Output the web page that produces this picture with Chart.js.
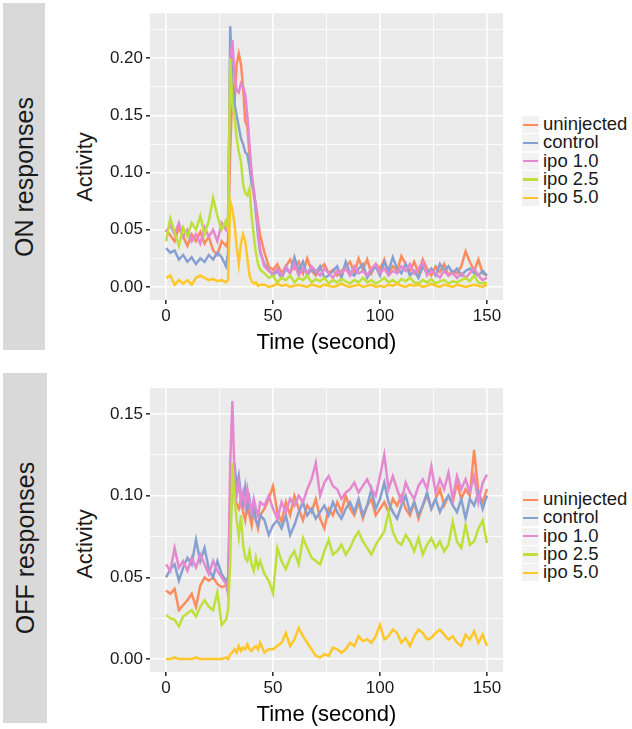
<!DOCTYPE html>
<html>
<head>
<meta charset="utf-8">
<script src="https://cdn.jsdelivr.net/npm/chart.js@4.4.1/dist/chart.umd.min.js"></script>
<style>
  body { margin:0; width:632px; height:729px; overflow:hidden; background:#fff; position:relative;
         font-family:"Liberation Sans", Arial, sans-serif; color:#1a1a1a; }
  .strip { position:absolute; background:#D9D9D9; }
  .rot { position:absolute; left:50%; top:50%; white-space:nowrap;
         transform:translate(-50%,-50%) rotate(-90deg); }
  .pin { position:absolute; width:0; height:0; }
  .legend { position:absolute; left:522px; }
  .row { position:absolute; left:0; height:18px; white-space:nowrap; }
  .key { position:absolute; left:0; top:0; width:17px; height:17px; background:#F2F2F2; }
  .key i { position:absolute; left:1px; right:1px; top:7.5px; height:2.4px; }
  .lab { position:absolute; left:21px; top:-3px; font-size:18.5px; line-height:22px; }
  .wrap { position:absolute; left:50px; }
</style>
</head>
<body>

<div class="strip" style="left:3px;top:3px;width:42px;height:347px;"><div class="rot" style="font-size:25px;">ON responses</div></div>
<div class="strip" style="left:3px;top:373px;width:44px;height:350px;"><div class="rot" style="font-size:25px;">OFF responses</div></div>

<div class="pin" style="left:85px;top:167px;"><div class="rot" style="font-size:22px;">Activity</div></div>
<div class="pin" style="left:85px;top:544px;"><div class="rot" style="font-size:22px;">Activity</div></div>

<div class="wrap" style="top:0;"><canvas id="onChart" width="460" height="360"></canvas></div>
<div class="wrap" style="top:375px;"><canvas id="offChart" width="460" height="354"></canvas></div>

<div class="legend" id="onLegend" style="top:116px;"></div>
<div class="legend" id="offLegend" style="top:491px;"></div>

<script>
// groups and colours
const groups = ['uninjected', 'control', 'ipo 1.0', 'ipo 2.5', 'ipo 5.0'];
const colors = ['#FC8C5E', '#86A0D2', '#E488CF', '#BDE03A', '#FFC72A'];

// sample times (s): every 2 s, every 1 s around the stimulus
const time = [0,2,4,6,8,10,12,14,16,18,20,22,24,26,28,
  29,30,31,32,33,34,35,36,37,38,39,40,41,42,43,44,
  46,48,50,52,54,56,58,60,62,64,66,68,70,72,74,76,78,80,82,84,
  86,88,90,92,94,96,98,100,102,104,106,108,110,112,114,116,118,120,122,124,
  126,128,130,132,134,136,138,140,142,144,146,148,150];

const xTicks = [0, 25, 50, 75, 100, 125, 150];
const onYTicks = [0, 0.025, 0.05, 0.075, 0.1, 0.125, 0.15, 0.175, 0.2, 0.225];
const offYTicks = [0, 0.025, 0.05, 0.075, 0.1, 0.125, 0.15];

// ON responses
const onUninjected = [
  0.050,0.045,0.040,0.052,0.044,0.036,0.046,0.040,0.048,0.038,0.044,0.032,0.028,0.040,0.036,
  0.040,0.120,0.170,0.160,0.195,0.204,0.195,0.175,0.145,0.140,0.115,0.095,0.080,0.072,0.058,0.045,
  0.030,0.018,0.015,0.020,0.012,0.018,0.024,0.016,0.022,0.012,
  0.025,0.014,0.010,0.016,0.020,0.012,0.015,0.010,0.014,0.018,
  0.022,0.012,0.025,0.015,0.024,0.012,0.020,0.016,0.024,0.012,
  0.018,0.014,0.027,0.020,0.014,0.022,0.012,0.024,0.016,0.010,
  0.018,0.013,0.020,0.010,0.014,0.012,0.018,0.031,0.022,0.014,
  0.024,0.012,0.010];
const onControl = [
  0.034,0.030,0.032,0.024,0.028,0.022,0.026,0.020,0.025,0.022,0.028,0.024,0.030,0.026,0.018,
  0.030,0.228,0.180,0.160,0.150,0.140,0.130,0.125,0.118,0.116,0.105,0.090,0.085,0.065,0.045,0.030,
  0.020,0.015,0.010,0.014,0.008,0.016,0.012,0.026,0.014,0.022,
  0.010,0.016,0.012,0.018,0.008,0.010,0.014,0.018,0.008,0.022,
  0.012,0.010,0.016,0.020,0.008,0.014,0.018,0.010,0.022,0.014,
  0.026,0.016,0.012,0.020,0.010,0.014,0.008,0.018,0.012,0.016,
  0.010,0.020,0.014,0.018,0.012,0.016,0.010,0.014,0.016,0.012,
  0.010,0.014,0.010];
const onIpo10 = [
  0.048,0.054,0.046,0.056,0.044,0.050,0.040,0.046,0.038,0.052,0.044,0.050,0.040,0.056,0.050,
  0.060,0.200,0.216,0.185,0.172,0.170,0.178,0.175,0.168,0.150,0.125,0.100,0.085,0.070,0.050,0.032,
  0.018,0.014,0.012,0.016,0.010,0.018,0.012,0.020,0.010,0.016,
  0.012,0.018,0.014,0.010,0.016,0.012,0.008,0.014,0.012,0.016,
  0.010,0.018,0.012,0.014,0.010,0.016,0.020,0.012,0.016,0.010,
  0.014,0.012,0.018,0.014,0.020,0.012,0.016,0.022,0.010,0.014,
  0.012,0.008,0.014,0.010,0.012,0.008,0.012,0.008,0.012,0.016,
  0.010,0.006,0.008];
const onIpo25 = [
  0.040,0.060,0.048,0.036,0.052,0.044,0.056,0.050,0.062,0.046,0.058,0.078,0.062,0.050,0.058,
  0.050,0.200,0.160,0.150,0.130,0.118,0.110,0.090,0.082,0.080,0.086,0.062,0.045,0.030,0.020,0.015,
  0.012,0.008,0.010,0.004,0.008,0.006,0.010,0.004,0.008,0.006,
  0.010,0.004,0.007,0.005,0.008,0.003,0.006,0.004,0.007,0.005,
  0.003,0.006,0.004,0.008,0.004,0.006,0.003,0.005,0.008,0.004,
  0.006,0.003,0.007,0.005,0.008,0.004,0.003,0.006,0.004,0.007,
  0.003,0.005,0.006,0.003,0.005,0.004,0.006,0.008,0.005,0.010,
  0.004,0.003,0.004];
const onIpo50 = [
  0.008,0.010,0.002,0.006,0.003,0.006,0.002,0.008,0.010,0.008,0.006,0.007,0.005,0.006,0.004,
  0.006,0.075,0.068,0.055,0.035,0.020,0.038,0.046,0.040,0.025,0.010,0.005,0.003,0.004,0.001,0.002,
  0.002,0.000,0.001,0.003,0.001,0.002,0.000,0.001,0.002,0.001,
  0.000,0.002,0.001,0.000,0.002,0.001,0.000,0.001,0.003,0.001,
  0.000,0.001,0.002,0.000,0.001,0.002,0.000,0.001,0.000,0.002,
  0.001,0.003,0.001,0.000,0.002,0.001,0.002,0.000,0.001,0.003,
  0.001,0.000,0.002,0.001,0.000,0.002,0.001,0.000,0.001,0.002,
  0.001,0.000,0.002];

// OFF responses
const offUninjected = [
  0.042,0.040,0.043,0.030,0.033,0.036,0.040,0.032,0.045,0.050,0.048,0.050,0.046,0.044,0.045,
  0.050,0.095,0.118,0.100,0.095,0.092,0.098,0.090,0.085,0.095,0.088,0.082,0.092,0.085,0.080,0.088,
  0.092,0.098,0.106,0.090,0.084,0.096,0.088,0.100,0.092,0.085,
  0.094,0.090,0.098,0.086,0.080,0.092,0.088,0.096,0.090,0.100,
  0.092,0.088,0.096,0.086,0.094,0.098,0.088,0.092,0.096,0.090,
  0.098,0.094,0.100,0.092,0.088,0.096,0.086,0.094,0.100,0.092,
  0.098,0.104,0.094,0.100,0.096,0.108,0.098,0.104,0.100,0.128,
  0.102,0.096,0.104];
const offControl = [
  0.050,0.055,0.058,0.048,0.056,0.062,0.058,0.073,0.060,0.068,0.055,0.050,0.060,0.052,0.048,
  0.050,0.080,0.105,0.120,0.105,0.112,0.100,0.095,0.105,0.092,0.098,0.088,0.094,0.085,0.082,0.088,
  0.085,0.076,0.082,0.085,0.080,0.088,0.076,0.082,0.090,0.096,
  0.088,0.092,0.086,0.090,0.094,0.088,0.096,0.090,0.086,0.092,
  0.096,0.090,0.098,0.088,0.094,0.104,0.092,0.098,0.108,0.096,
  0.090,0.086,0.094,0.100,0.090,0.096,0.088,0.094,0.102,0.092,
  0.098,0.090,0.096,0.100,0.094,0.090,0.098,0.086,0.098,0.094,
  0.102,0.092,0.100];
const offIpo10 = [
  0.058,0.054,0.068,0.056,0.060,0.054,0.062,0.056,0.064,0.058,0.052,0.060,0.054,0.050,0.046,
  0.040,0.120,0.158,0.112,0.100,0.108,0.096,0.102,0.094,0.104,0.096,0.090,0.098,0.092,0.088,0.096,
  0.094,0.100,0.092,0.086,0.096,0.090,0.098,0.094,0.100,0.096,
  0.104,0.110,0.120,0.100,0.108,0.112,0.106,0.104,0.098,0.102,
  0.104,0.108,0.102,0.106,0.110,0.104,0.100,0.112,0.125,0.104,
  0.112,0.104,0.096,0.108,0.102,0.098,0.106,0.110,0.104,0.118,
  0.102,0.110,0.104,0.114,0.098,0.112,0.104,0.110,0.102,0.112,
  0.096,0.108,0.113];
const offIpo25 = [
  0.027,0.025,0.024,0.020,0.026,0.028,0.030,0.026,0.032,0.036,0.032,0.030,0.041,0.021,0.024,
  0.030,0.060,0.120,0.098,0.085,0.075,0.088,0.070,0.062,0.060,0.066,0.058,0.054,0.062,0.056,0.060,
  0.052,0.048,0.040,0.068,0.060,0.055,0.062,0.066,0.058,0.074,
  0.068,0.062,0.060,0.058,0.066,0.073,0.064,0.066,0.070,0.064,
  0.068,0.074,0.078,0.072,0.068,0.064,0.070,0.074,0.078,0.090,
  0.078,0.072,0.070,0.076,0.072,0.066,0.074,0.064,0.070,0.074,
  0.068,0.072,0.066,0.070,0.084,0.072,0.068,0.082,0.070,0.072,
  0.080,0.085,0.071];
const offIpo50 = [
  0.000,0.000,0.001,0.000,0.000,0.000,0.000,0.001,0.000,0.000,0.000,0.000,0.000,0.000,0.001,
  0.000,0.003,0.004,0.006,0.004,0.008,0.005,0.007,0.006,0.009,0.006,0.005,0.007,0.008,0.006,0.010,
  0.004,0.006,0.006,0.008,0.010,0.016,0.008,0.012,0.019,0.014,
  0.010,0.006,0.002,0.001,0.003,0.002,0.007,0.006,0.004,0.006,
  0.010,0.008,0.014,0.011,0.012,0.010,0.014,0.021,0.012,0.014,
  0.018,0.016,0.010,0.013,0.008,0.014,0.018,0.016,0.012,0.013,
  0.016,0.018,0.015,0.012,0.014,0.010,0.008,0.015,0.012,0.017,
  0.010,0.015,0.008];

const onSeries = [onUninjected, onControl, onIpo10, onIpo25, onIpo50];
const offSeries = [offUninjected, offControl, offIpo10, offIpo25, offIpo50];

Chart.defaults.font.family = '"Liberation Sans", Arial, sans-serif';
Chart.defaults.color = '#1a1a1a';

// grey panel behind the grid, like ggplot
const panelBg = {
  id: 'panelBg',
  beforeDraw(chart) {
    const { ctx, chartArea: a } = chart;
    ctx.save();
    ctx.fillStyle = '#EBEBEB';
    ctx.fillRect(a.left, a.top, a.right - a.left, a.bottom - a.top);
    ctx.restore();
  }
};

function isMajor(v, step) {
  return Math.abs(v / step - Math.round(v / step)) < 1e-6;
}

function makeChart(id, series, yMin, yMax, yTicks, xAxisHeight, titlePad) {
  const datasets = series.map((vals, i) => ({
    label: groups[i],
    data: vals.map((v, j) => ({ x: time[j], y: v })),
    borderColor: colors[i],
    borderWidth: 2.5,
    pointRadius: 0,
    tension: 0,
    order: groups.length - i
  }));

  return new Chart(document.getElementById(id), {
    type: 'line',
    data: { datasets },
    plugins: [panelBg],
    options: {
      responsive: false,
      animation: false,
      layout: { padding: { top: 7, right: 7, left: 0, bottom: 0 } },
      plugins: { legend: { display: false }, tooltip: { enabled: false } },
      scales: {
        x: {
          type: 'linear',
          min: -7.5, max: 157.5,
          afterBuildTicks: s => { s.ticks = xTicks.map(v => ({ value: v })); },
          afterFit: s => { s.height = xAxisHeight; },
          ticks: {
            font: { size: 17 }, padding: 2, maxRotation: 0,
            callback: v => isMajor(v, 50) ? String(v) : ''
          },
          grid: {
            color: '#fff',
            lineWidth: c => isMajor(c.tick.value, 50) ? 1.6 : 0.8,
            tickColor: c => isMajor(c.tick.value, 50) ? '#333' : 'rgba(0,0,0,0)',
            tickLength: 4
          },
          border: { display: false },
          title: { display: true, text: 'Time (second)', color: '#000', font: { size: 22 }, padding: { top: 0, bottom: titlePad } }
        },
        y: {
          min: yMin, max: yMax,
          afterBuildTicks: s => { s.ticks = yTicks.map(v => ({ value: v })); },
          afterFit: s => { s.width = 100; },
          ticks: {
            font: { size: 17 }, padding: 3,
            callback: v => isMajor(v, 0.05) ? v.toFixed(2) : ''
          },
          grid: {
            color: '#fff',
            lineWidth: c => isMajor(c.tick.value, 0.05) ? 1.6 : 0.8,
            tickColor: c => isMajor(c.tick.value, 0.05) ? '#333' : 'rgba(0,0,0,0)',
            tickLength: 4
          },
          border: { display: false }
        }
      }
    }
  });
}

function makeLegend(id) {
  const box = document.getElementById(id);
  groups.forEach((g, i) => {
    const row = document.createElement('div');
    row.className = 'row';
    row.style.top = (i * 18.3) + 'px';
    row.innerHTML = '<div class="key"><i style="background:' + colors[i] + '"></i></div><div class="lab">' + g + '</div>';
    box.appendChild(row);
  });
}

makeChart('onChart', onSeries, -0.0114, 0.2394, onYTicks, 60, 4);
makeChart('offChart', offSeries, -0.0079, 0.1658, offYTicks, 57, 1);
makeLegend('onLegend');
makeLegend('offLegend');
</script>
</body>
</html>
